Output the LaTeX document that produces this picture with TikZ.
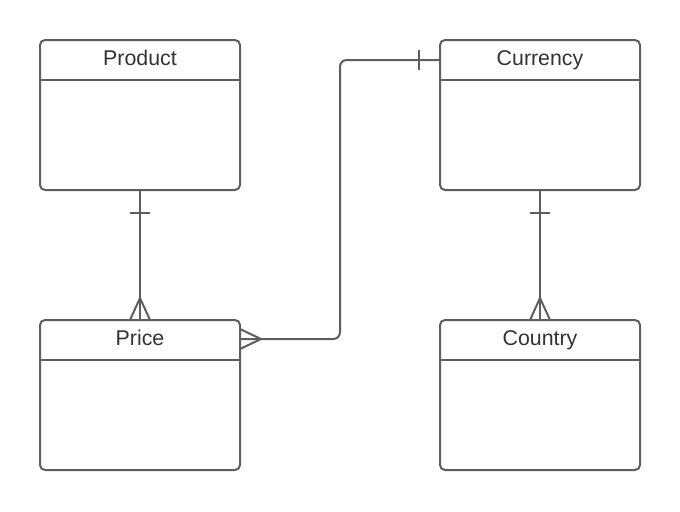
\documentclass[tikz,border=0pt]{standalone}
\usepackage{fontspec}
\setmainfont{Liberation Sans}
\usetikzlibrary{calc}
\definecolor{linegray}{HTML}{5E5E5E}
\definecolor{textgray}{HTML}{333333}
\tikzset{
  entity/.style={draw=linegray, line width=1.5pt, rounded corners=3.75pt, fill=white,
    minimum width=150pt, minimum height=112.5pt, inner sep=0pt, outer sep=0pt},
  title/.style={anchor=base, text=textgray, font=\fontsize{16}{19}\selectfont, inner sep=0pt},
  conn/.style={draw=linegray, line width=1.5pt},
}
\begin{document}
\begin{tikzpicture}[x=0.75pt, y=-0.75pt]
\useasboundingbox (0,0) rectangle (680,511);
% entities
\node[entity] (product)  at (140,115) {};
\node[entity] (currency) at (540,115) {};
\node[entity] (price)    at (140,395) {};
\node[entity] (country)  at (540,395) {};
% header separators and titles
\foreach \e/\t in {product/Product, currency/Currency, price/Price, country/Country}{
  \draw[conn] ($(\e.north west)+(0,40)$) -- ($(\e.north east)+(0,40)$);
  \node[title] (\e-title) at ($(\e.north)+(0,25)$) {\t};
}
% Product -- Price
\draw[conn] (product.south) -- (price.north);
\draw[conn] (product.south) ++(-10,23) -- ++(20,0);
\draw[conn] (price.north) +(-10,0) -- +(0,-22) -- +(10,0);
% Currency -- Country
\draw[conn] (currency.south) -- (country.north);
\draw[conn] (currency.south) ++(-10,23) -- ++(20,0);
\draw[conn] (country.north) +(-10,0) -- +(0,-22) -- +(10,0);
% Price -- Currency
\coordinate (p1) at ($(price.north east)+(0,19)$);
\coordinate (c1) at ($(currency.north west)+(0,20)$);
\draw[conn, rounded corners=5pt] (p1) -- ++(100,0) |- (c1);
\draw[conn] (p1) +(0,-10) -- +(21,0) -- +(0,10);
\draw[conn] (c1) +(-21,-10) -- +(-21,10);
\end{tikzpicture}
\end{document}
